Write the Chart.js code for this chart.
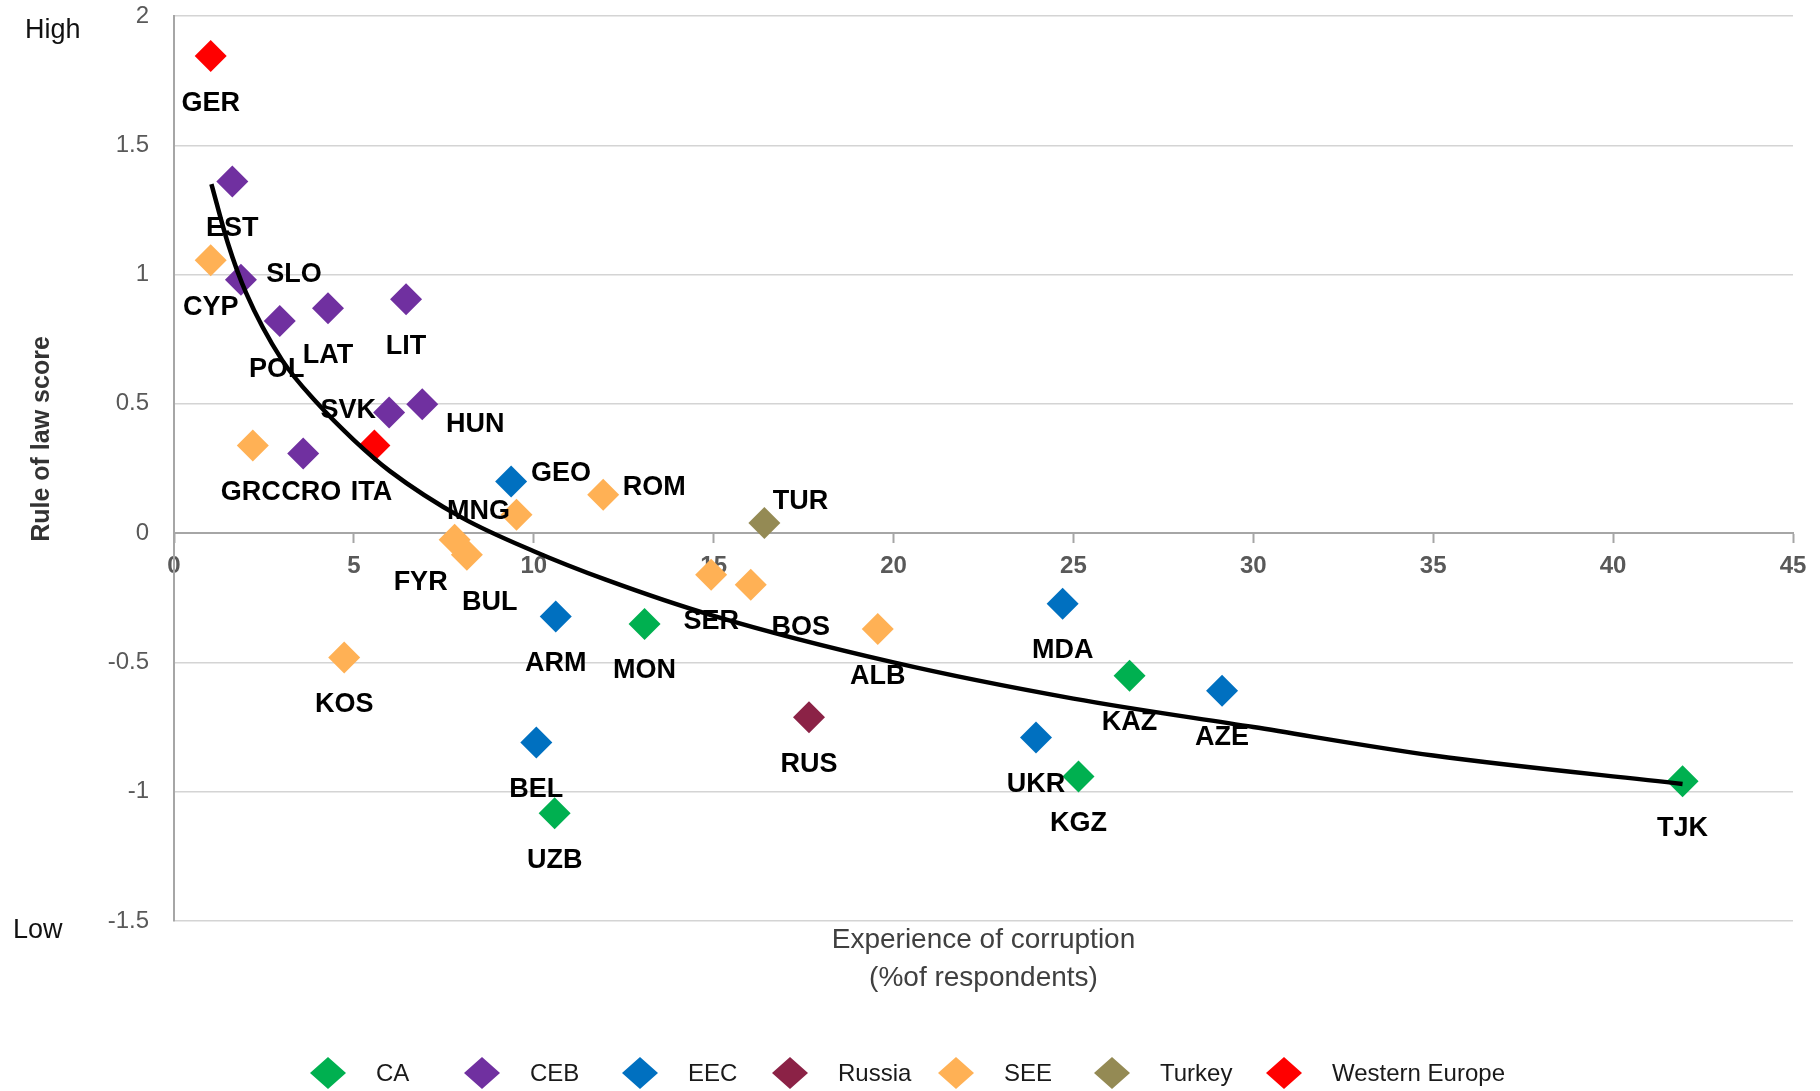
<!DOCTYPE html>
<html>
<head>
<meta charset="utf-8">
<title>Experience of corruption vs rule of law</title>
<script src="https://cdn.jsdelivr.net/npm/chart.js"></script>
<style>
    html, body { margin: 0; padding: 0; background: #fff; }
    #chartBox { width: 1820px; height: 1091px; position: relative; }
</style>
</head>
<body>
<div id="chartBox"><canvas id="corruptionChart" width="1820" height="1091"></canvas></div>
<script>
/**
 * Experience of corruption vs rule of law score, by country group.
 * Values.
 */

// --- data ---------------------------------------------------------------

const regions = ['CA', 'CEB', 'EEC', 'Russia', 'SEE', 'Turkey', 'Western Europe'];

const countries = [
    'GER', 'EST', 'CYP', 'SLO', 'POL', 'LAT', 'LIT', 'SVK', 'HUN', 'GRC', 'CRO',
    'ITA', 'GEO', 'MNG', 'ROM', 'TUR', 'FYR', 'BUL', 'SER', 'BOS', 'ARM', 'MON',
    'ALB', 'RUS', 'BEL', 'UZB', 'KOS', 'MDA', 'KAZ', 'AZE', 'UKR', 'KGZ', 'TJK'
];

const countryRegion = [
    'Western Europe', 'CEB', 'SEE', 'CEB', 'CEB', 'CEB', 'CEB', 'CEB', 'CEB', 'SEE', 'CEB',
    'Western Europe', 'EEC', 'SEE', 'SEE', 'Turkey', 'SEE', 'SEE', 'SEE', 'SEE', 'EEC', 'CA',
    'SEE', 'Russia', 'EEC', 'CA', 'SEE', 'EEC', 'CA', 'EEC', 'EEC', 'CA', 'CA'
];

// experience of corruption (% of respondents)
const corruptionPct = [
    1.02, 1.62, 1.02, 1.86, 2.94, 4.28, 6.45, 5.98, 6.90, 2.19, 3.59,
    5.57, 9.37, 9.52, 11.93, 16.41, 7.80, 8.14, 14.93, 16.03, 10.61, 13.08,
    19.56, 17.65, 10.07, 10.58, 4.73, 24.70, 26.56, 29.13, 23.96, 25.14, 41.93
];

// rule of law score
const ruleOfLaw = [
    1.845, 1.36, 1.055, 0.98, 0.82, 0.87, 0.905, 0.467, 0.498, 0.339, 0.308,
    0.339, 0.20, 0.071, 0.148, 0.039, -0.026, -0.084, -0.161, -0.20, -0.322, -0.351,
    -0.371, -0.712, -0.81, -1.083, -0.481, -0.273, -0.552, -0.61, -0.79, -0.941, -0.96
];

// trend curve
const trendX = [1.04, 1.5, 2, 3, 4, 5, 6, 8, 10, 12, 15, 20, 25, 30, 35, 41.93];
const trendY = [1.35, 1.12, 0.93, 0.67, 0.50, 0.36, 0.24, 0.06, -0.07, -0.18, -0.32, -0.50, -0.64, -0.75, -0.86, -0.97];

const xTickValues = [0, 5, 10, 15, 20, 25, 30, 35, 40, 45];
const xTickLabels = ['0', '5', '10', '15', '20', '25', '30', '35', '40', '45'];
const yTickValues = [-1.5, -1, -0.5, 0, 0.5, 1, 1.5, 2];
const yTickLabels = ['-1.5', '-1', '-0.5', '0', '0.5', '1', '1.5', '2'];


// --- styling / layout ---------------------------------------------------

const regionColors = {
    'CA': '#00b050',
    'CEB': '#7030a0',
    'EEC': '#0070c0',
    'Russia': '#8b2246',
    'SEE': '#ffb155',
    'Turkey': '#948a54',
    'Western Europe': '#ff0000'
};

// where each country label sits relative to its marker (px)
const defaultLabelOffset = [0, 47];
const labelOffsets = {
    SLO: [53, -5],
    SVK: [-41, -2],
    HUN: [53, 20],
    CRO: [8, 39],
    GRC: [-2, 47],
    ITA: [-3, 47],
    POL: [-3, 48],
    GEO: [50, -8],
    ROM: [51, -7],
    TUR: [36, -22],
    MNG: [-38, -3],
    FYR: [-34, 43],
    BUL: [23, 48],
    BOS: [50, 43]
};

// legend marker centres (px)
const legendX = [328, 482, 640, 790, 956, 1112, 1284];
const legendY = 1073;

const FONT = '"Liberation Sans", Arial, sans-serif';
const axisGrey = '#a6a6a6';
const tickGrey = '#595959';


/**
 * Build one scatter dataset per country group
 */
function buildRegionDatasets() {
    return regions.map(region => {
        const points = [];
        const names = [];
        countries.forEach((name, i) => {
            if (countryRegion[i] !== region) return;
            points.push({ x: corruptionPct[i], y: ruleOfLaw[i] });
            names.push(name);
        });
        return {
            label: region,
            data: points,
            names: names,
            pointStyle: 'rectRot',
            pointRadius: 16,
            pointHoverRadius: 16,
            pointBorderWidth: 0,
            backgroundColor: regionColors[region],
            borderColor: regionColors[region],
            order: 1
        };
    });
}


function buildTrendDataset() {
    return {
        label: 'trend',
        data: trendX.map((x, i) => ({ x: x, y: trendY[i] })),
        showLine: true,
        borderColor: '#000',
        borderWidth: 4.5,
        pointRadius: 0,
        pointHoverRadius: 0,
        cubicInterpolationMode: 'monotone',
        order: -1
    };
}


/**
 * Texts the axes don't draw: country labels, High/Low, titles, legend
 */
const annotationsPlugin = {
    id: 'annotations',

    afterDatasetsDraw(chart) {
        const ctx = chart.ctx;
        ctx.save();
        ctx.font = 'bold 27px ' + FONT;
        ctx.fillStyle = '#000';
        ctx.textAlign = 'center';
        ctx.textBaseline = 'middle';
        chart.data.datasets.forEach((ds, i) => {
            if (!ds.names) return;
            const meta = chart.getDatasetMeta(i);
            meta.data.forEach((pt, j) => {
                const name = ds.names[j];
                const off = labelOffsets[name] || defaultLabelOffset;
                ctx.fillText(name, pt.x + off[0], pt.y + off[1]);
            });
        });
        ctx.restore();
    },

    afterDraw(chart) {
        const ctx = chart.ctx;
        const area = chart.chartArea;
        ctx.save();

        // High / Low
        ctx.fillStyle = '#111';
        ctx.textAlign = 'left';
        ctx.textBaseline = 'middle';
        ctx.font = '27px ' + FONT;
        ctx.fillText('High', 25, 31);
        ctx.fillText('Low', 13, 931);

        // y axis title
        ctx.save();
        ctx.translate(42, 439);
        ctx.rotate(-Math.PI / 2);
        ctx.textAlign = 'center';
        ctx.font = 'bold 25px ' + FONT;
        ctx.fillStyle = '#333';
        ctx.fillText('Rule of law score', 0, 0);
        ctx.restore();

        // x axis title
        const cx = (area.left + area.right) / 2;
        ctx.textAlign = 'center';
        ctx.font = '28px ' + FONT;
        ctx.fillStyle = '#404040';
        ctx.fillText('Experience of corruption', cx, 940);
        ctx.fillText('(%of respondents)', cx, 978);

        // legend
        ctx.font = '24px ' + FONT;
        ctx.textAlign = 'left';
        regions.forEach((region, i) => {
            const x = legendX[i];
            ctx.fillStyle = regionColors[region];
            ctx.beginPath();
            ctx.moveTo(x - 18, legendY);
            ctx.lineTo(x, legendY - 16);
            ctx.lineTo(x + 18, legendY);
            ctx.lineTo(x, legendY + 16);
            ctx.closePath();
            ctx.fill();
            ctx.fillStyle = '#1a1a1a';
            ctx.fillText(region, x + 48, legendY + 1);
        });

        ctx.restore();
    }
};


function renderChart() {
    const ctx = document.getElementById('corruptionChart').getContext('2d');

    new Chart(ctx, {
        type: 'scatter',
        data: {
            datasets: [buildTrendDataset()].concat(buildRegionDatasets())
        },
        options: {
            responsive: false,
            animation: false,
            events: [],
            layout: {
                padding: { left: 74, top: 16, right: 27, bottom: 170 }
            },
            plugins: {
                legend: { display: false },
                tooltip: { enabled: false }
            },
            scales: {
                x: {
                    type: 'linear',
                    position: { y: 0 },
                    min: 0,
                    max: 45,
                    afterBuildTicks: (scale) => {
                        scale.ticks = xTickValues.map(v => ({ value: v }));
                    },
                    afterFit: (scale) => {
                        // the axis sits inside the plot at y = 0, so it takes no room
                        scale.height = 0;
                    },
                    ticks: {
                        callback: (value, index) => xTickLabels[index],
                        font: { family: FONT, size: 24, weight: 'bold' },
                        color: tickGrey,
                        padding: 10,
                        maxRotation: 0
                    },
                    grid: {
                        drawOnChartArea: false,
                        drawTicks: true,
                        tickLength: 9,
                        tickWidth: 2,
                        tickColor: axisGrey
                    },
                    border: { display: true, color: axisGrey, width: 2 }
                },
                y: {
                    type: 'linear',
                    position: 'left',
                    min: -1.5,
                    max: 2,
                    afterBuildTicks: (scale) => {
                        scale.ticks = yTickValues.map(v => ({ value: v }));
                    },
                    afterFit: (scale) => {
                        scale.width = 100;
                        // label padding shouldn't push the plot down
                        scale.paddingTop = 0;
                        scale.paddingBottom = 0;
                    },
                    ticks: {
                        callback: (value, index) => yTickLabels[index],
                        font: { family: FONT, size: 24 },
                        color: tickGrey,
                        padding: 25
                    },
                    grid: {
                        color: '#d4d4d4',
                        lineWidth: 1.5,
                        drawTicks: false
                    },
                    border: { display: true, color: axisGrey, width: 2 }
                }
            }
        },
        plugins: [annotationsPlugin]
    });
}

renderChart();
</script>
</body>
</html>
